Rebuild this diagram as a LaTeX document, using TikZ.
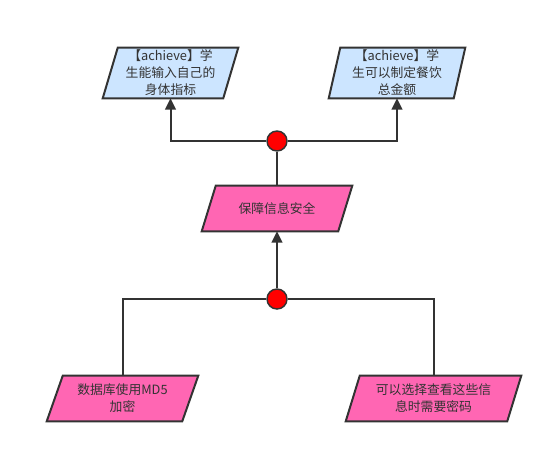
\documentclass[tikz,border=0pt]{standalone}
\usepackage{fontspec}
\setmainfont{Noto Sans CJK SC}
\usetikzlibrary{arrows.meta,calc,backgrounds}
\definecolor{txt}{HTML}{333333}
\definecolor{bluefill}{HTML}{CCE5FF}
\definecolor{pinkfill}{HTML}{FF66B3}
\definecolor{dotred}{HTML}{FF0000}
\tikzset{
  box/.style={rectangle,inner sep=0pt,align=center,text=txt,
    font=\fontsize{9.6pt}{12.75pt}\selectfont},
  dot/.style={circle,draw=txt,fill=dotred,line width=1.1pt,minimum size=15pt,inner sep=0pt},
  conn/.style={draw=txt,line width=1.5pt},
  arr/.style={conn,-{Triangle[width=8pt,length=8.5pt]}},
  paraline/.style={draw=txt,line width=1.5pt,line join=miter}
}
\newcommand{\drawpara}[3]{%
  \path[paraline,fill=#3] ($(#1.north west)+(#2,0)$) -- (#1.north east)
    -- ($(#1.south east)-(#2,0)$) -- (#1.south west) -- cycle;}
\begin{document}
\begin{tikzpicture}[x=0.75pt,y=-0.75pt]
\useasboundingbox (0,0) rectangle (553,453);
\node[box,minimum width=101.25pt,minimum height=37.5pt] (tl) at (170.5,73) {【achieve】学\\生能输入自己的\\身体指标};
\node[box,minimum width=102pt,minimum height=37.5pt] (tr) at (397,73) {【achieve】学\\生可以制定餐饮\\总金额};
\node[box,minimum width=112.5pt,minimum height=33.75pt] (mid) at (277,208.5) {保障信息安全};
\node[box,minimum width=113.25pt,minimum height=33.75pt] (bl) at (122.5,398.5) {数据库使用MD5\\加密};
\node[box,minimum width=131.25pt,minimum height=33.75pt] (br) at (433.5,398.5) {可以选择查看这些信\\息时需要密码};
\begin{scope}[on background layer]
\drawpara{tl}{15}{bluefill}
\drawpara{tr}{11.5}{bluefill}
\drawpara{mid}{14}{pinkfill}
\drawpara{bl}{16}{pinkfill}
\drawpara{br}{14}{pinkfill}
\end{scope}
\node[dot] (c1) at (277,141) {};
\node[dot] (c2) at (277,299) {};
\draw[arr] (c1.west) -| (tl.south);
\draw[arr] (c1.east) -| (tr.south);
\draw[conn] (c1.south) -- (mid.north);
\draw[arr] (c2.north) -- (mid.south);
\draw[conn] (c2.west) -| (bl.north);
\draw[conn] (c2.east) -| (br.north);
\end{tikzpicture}
\end{document}
